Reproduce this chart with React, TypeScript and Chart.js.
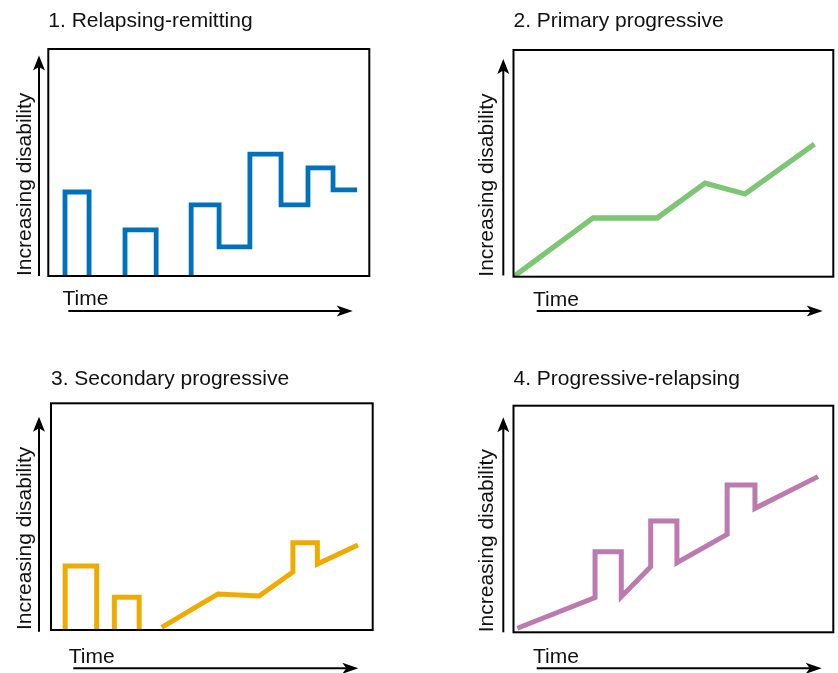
import React, { useEffect, useRef } from 'react';
import { Chart, registerables } from 'chart.js';

Chart.register(...registerables);

// ---- Text ----
const panelTitles = [
  '1. Relapsing-remitting',
  '2. Primary progressive',
  '3. Secondary progressive',
  '4. Progressive-relapsing',
];
const yAxisLabel = 'Increasing disability';
const xAxisLabel = 'Time';

// ---- Data (time 0-100, disability 0-100; null = break in the line) ----
// 1. Relapsing-remitting
const rrTime = [5.2, 5.2, 12.7, 12.7, null, 23.9, 23.9, 33.6, 33.6, null, 44.5, 44.5, 53.2, 53.2, 62.8, 62.8, 72.5, 72.5, 80.9, 80.9, 88.7, 88.7, 96.2];
const rrLevel = [0, 37.0, 37.0, 0, null, 0, 20.3, 20.3, 0, null, 0, 31.3, 31.3, 12.8, 12.8, 53.7, 53.7, 31.3, 31.3, 47.6, 47.6, 37.9, 37.9];

// 2. Primary progressive
const ppTime = [0, 24.9, 44.9, 59.9, 72.4, 94.1];
const ppLevel = [0, 25.9, 25.9, 41.3, 36.5, 58.5];

// 3. Secondary progressive
const spTime = [4.4, 4.4, 14.2, 14.2, null, 19.7, 19.7, 27.4, 27.4, null, 34.4, 51.9, 64.7, 75.2, 75.2, 82.8, 82.8, 95.4];
const spLevel = [0, 28.2, 28.2, 0, null, 0, 14.4, 14.4, 0, null, 1.2, 15.9, 15.0, 25.6, 38.5, 38.5, 29.1, 37.5];

// 4. Progressive-relapsing
const prTime = [1.2, 25.5, 25.5, 33.7, 33.7, 42.9, 42.9, 51.1, 51.1, 66.8, 66.8, 75.5, 75.5, 95.2];
const prLevel = [1.8, 15.3, 35.6, 35.6, 15.7, 28.9, 49.1, 49.1, 30.7, 43.2, 65.0, 65.0, 54.7, 68.7];

// ---- Styles ----
const FONT_FAMILY = '"Liberation Sans", Arial, Helvetica, sans-serif';
const TEXT_COLOR = '#111111';
const INK = '#000000';

type Pad = { top: number; bottom: number };
type PanelSpec = {
  title: string;
  time: (number | null)[];
  level: (number | null)[];
  color: string;
  lineWidth: number;
  left: number;
  top: number;
  w: number;
  h: number;
  layoutPad: { left: number; right: number; top: number; bottom: number };
  titlePad: Pad;
  yTitlePad: Pad;
  decor: {
    ox: number;
    oy: number;
    yx: number;
    yBottom: number;
    yTip: number;
    xy: number;
    xStart: number;
    xTip: number;
    tx: number;
    ty: number;
  };
};

const panels: PanelSpec[] = [
  {
    title: panelTitles[0], time: rrTime, level: rrLevel, color: '#0072BC', lineWidth: 4.8,
    left: 0, top: 0, w: 419, h: 336,
    layoutPad: { left: 0, right: 49.7, top: 0, bottom: 60 },
    titlePad: { top: 8.3, bottom: 15.5 },
    yTitlePad: { top: 12.3, bottom: 10.8 },
    decor: { ox: 0, oy: 0, yx: 39, yBottom: 276, yTip: 55.5, xy: 311, xStart: 68.3, xTip: 352.7, tx: 62.5, ty: 305 },
  },
  {
    title: panelTitles[1], time: ppTime, level: ppLevel, color: '#7CC674', lineWidth: 5.3,
    left: 419, top: 0, w: 419, h: 336,
    layoutPad: { left: 45, right: 4.7, top: 0, bottom: 59.3 },
    titlePad: { top: 8.3, bottom: 16.5 },
    yTitlePad: { top: 10.9, bottom: 13.4 },
    decor: { ox: 419, oy: 0, yx: 503.3, yBottom: 275.5, yTip: 59, xy: 311, xStart: 536.7, xTip: 822.7, tx: 533, ty: 305.7 },
  },
  {
    title: panelTitles[2], time: spTime, level: spLevel, color: '#F0AB00', lineWidth: 5,
    left: 0, top: 336, w: 419, h: 337,
    layoutPad: { left: 0, right: 46.3, top: 0, bottom: 43 },
    titlePad: { top: 30.6, bottom: 11.5 },
    yTitlePad: { top: 12.3, bottom: 13.5 },
    decor: { ox: 0, oy: 336, yx: 39, yBottom: 631.7, yTip: 416.7, xy: 668.3, xStart: 73.3, xTip: 358.3, tx: 68.7, ty: 662.7 },
  },
  {
    title: panelTitles[3], time: prTime, level: prLevel, color: '#BB7BB0', lineWidth: 5,
    left: 419, top: 336, w: 419, h: 337,
    layoutPad: { left: 45, right: 4.7, top: 0, bottom: 40.7 },
    titlePad: { top: 30.6, bottom: 13.9 },
    yTitlePad: { top: 10.9, bottom: 13.4 },
    decor: { ox: 419, oy: 336, yx: 503.3, yBottom: 632.3, yTip: 417.3, xy: 668.3, xStart: 536.7, xTip: 821.7, tx: 533, ty: 663 },
  },
];

function toSegments(time: (number | null)[], level: (number | null)[]) {
  const segs: { x: number; y: number }[][] = [];
  let cur: { x: number; y: number }[] = [];
  time.forEach((t, i) => {
    const v = level[i];
    if (t === null || v === null || v === undefined) {
      if (cur.length) segs.push(cur);
      cur = [];
    } else {
      cur.push({ x: t, y: v });
    }
  });
  if (cur.length) segs.push(cur);
  return segs;
}

// Draws the frame, the two arrows and the "Time" label.
const decorPlugin = {
  id: 'decor',
  afterDraw(chart: any, _args: any, opts: any) {
    const { ctx, chartArea } = chart;
    const ox = opts.ox, oy = opts.oy;
    ctx.save();
    ctx.strokeStyle = INK;
    ctx.fillStyle = INK;
    // frame
    ctx.lineWidth = 2;
    ctx.strokeRect(chartArea.left, chartArea.top, chartArea.right - chartArea.left, chartArea.bottom - chartArea.top);

    // y arrow
    const yx = opts.yx - ox;
    const yb = opts.yBottom - oy;
    const yt = opts.yTip - oy;
    ctx.lineWidth = 2;
    ctx.beginPath();
    ctx.moveTo(yx, yb);
    ctx.lineTo(yx, yt + 10);
    ctx.stroke();
    ctx.beginPath();
    ctx.moveTo(yx, yt);
    ctx.lineTo(yx + 6, yt + 15);
    ctx.lineTo(yx, yt + 11.5);
    ctx.lineTo(yx - 6, yt + 15);
    ctx.closePath();
    ctx.fill();

    // x arrow
    const xy = opts.xy - oy;
    const xs = opts.xStart - ox;
    const xt = opts.xTip - ox;
    ctx.beginPath();
    ctx.moveTo(xs, xy);
    ctx.lineTo(xt - 10, xy);
    ctx.stroke();
    ctx.beginPath();
    ctx.moveTo(xt, xy);
    ctx.lineTo(xt - 16, xy - 5.5);
    ctx.lineTo(xt - 12, xy);
    ctx.lineTo(xt - 16, xy + 5.5);
    ctx.closePath();
    ctx.fill();

    // x label
    ctx.fillStyle = TEXT_COLOR;
    ctx.font = `21px ${FONT_FAMILY}`;
    ctx.textAlign = 'left';
    ctx.textBaseline = 'alphabetic';
    ctx.fillText(xAxisLabel, opts.tx - ox, opts.ty - oy);
    ctx.restore();
  },
};

function Panel({ spec }: { spec: PanelSpec }) {
  const ref = useRef<HTMLCanvasElement | null>(null);
  useEffect(() => {
    const canvas = ref.current;
    if (!canvas) return;
    const segs = toSegments(spec.time, spec.level);
    const chart = new Chart(canvas, {
      type: 'line',
      data: {
        datasets: segs.map((seg) => ({
          data: seg,
          borderColor: spec.color,
          backgroundColor: spec.color,
          borderWidth: spec.lineWidth,
          pointRadius: 0,
          pointHoverRadius: 0,
          fill: false,
          tension: 0,
          borderJoinStyle: 'miter' as const,
          borderCapStyle: 'butt' as const,
          spanGaps: false,
        })),
      },
      options: {
        responsive: false,
        animation: false,
        devicePixelRatio: 1,
        events: [],
        layout: { padding: spec.layoutPad },
        scales: {
          x: {
            type: 'linear',
            min: 0,
            max: 100,
            display: false,
          },
          y: {
            type: 'linear',
            position: 'left',
            min: 0,
            max: 100,
            display: true,
            ticks: { display: false },
            grid: { display: false, drawTicks: false },
            border: { display: false },
            title: {
              display: true,
              text: yAxisLabel,
              align: 'start',
              color: TEXT_COLOR,
              font: { family: FONT_FAMILY, size: 21, lineHeight: 1.2, weight: 'normal' },
              padding: spec.yTitlePad,
            },
          },
        },
        plugins: {
          legend: { display: false },
          tooltip: { enabled: false },
          title: {
            display: true,
            text: spec.title,
            align: 'start',
            fullSize: false,
            color: TEXT_COLOR,
            font: { family: FONT_FAMILY, size: 21, lineHeight: 1.2, weight: 'normal' },
            padding: spec.titlePad,
          },
          decor: spec.decor,
        } as any,
      },
      plugins: [decorPlugin],
    } as any);
    return () => chart.destroy();
  }, [spec]);

  return (
    <div style={{ position: 'absolute', left: spec.left, top: spec.top, width: spec.w, height: spec.h }}>
      <canvas ref={ref} width={spec.w} height={spec.h} style={{ display: 'block', width: spec.w, height: spec.h }} />
    </div>
  );
}

export default function App() {
  return (
    <div style={{ position: 'absolute', left: 0, top: 0, width: 838, height: 673, background: '#ffffff', overflow: 'hidden' }}>
      {panels.map((p) => (
        <Panel key={p.title} spec={p} />
      ))}
    </div>
  );
}
